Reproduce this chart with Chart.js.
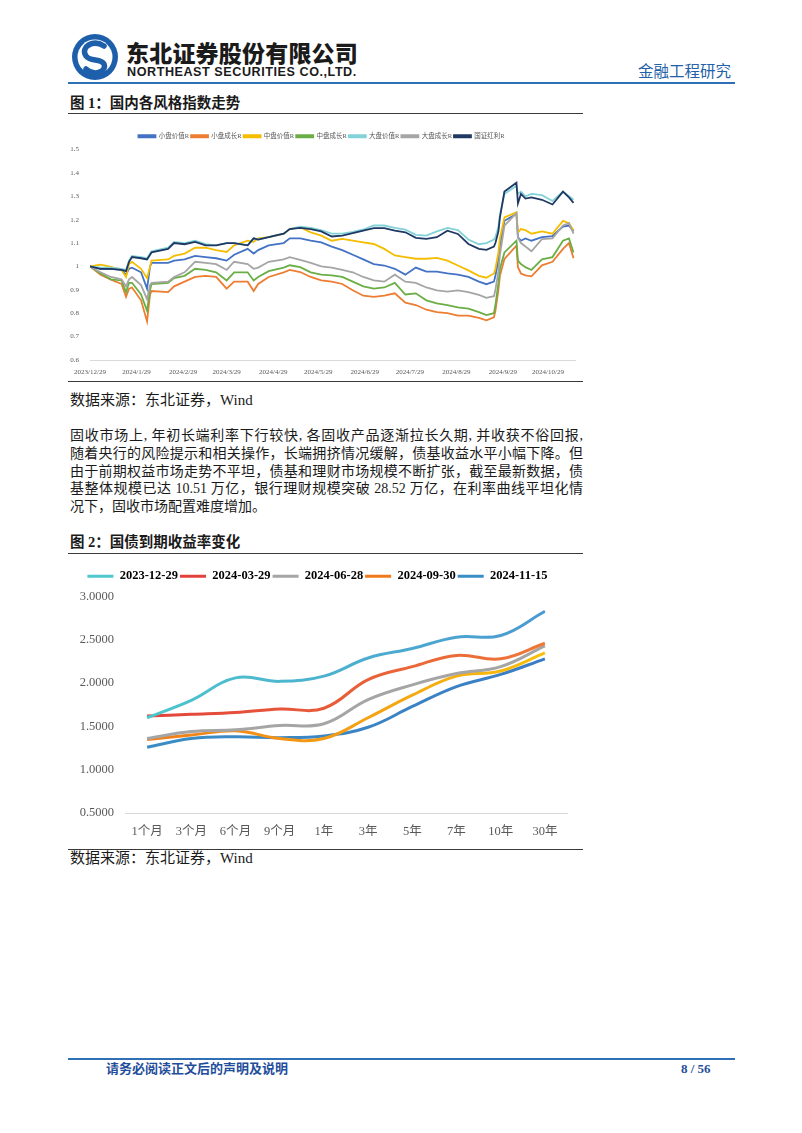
<!DOCTYPE html>
<html lang="zh">
<head>
    <meta charset="UTF-8">
    <title>金融工程研究</title>
    <style>
        body {
            margin: 0;
            background: #fff;
            font-family: "Liberation Serif", "Noto Sans CJK SC", serif;
            color: #1a1a1a;
        }
        .page { position: relative; width: 802px; height: 1133px; overflow: hidden; }
        .abs { position: absolute; white-space: nowrap; }
        .rule { position: absolute; left: 68px; width: 515px; border-top: 1px solid #3a3a3a; }
        .blue-rule { position: absolute; left: 68px; width: 667px; border-top: 2px solid #2f6fb5; }
        .fig-title { font-size: 14.5px; font-weight: bold; line-height: 18px; left: 70px; }
        .source { font-size: 15px; line-height: 18px; left: 70px; }
        .para { position: absolute; left: 70px; top: 427px; width: 513px; font-size: 14px; line-height: 17.8px; }
        .para div { text-align: justify; text-align-last: justify; white-space: nowrap; }
        .para div.last { text-align-last: left; }
        canvas { position: absolute; }
    </style>
    <script src="https://cdn.jsdelivr.net/npm/chart.js"></script>
</head>
<body>
<div class="page">
    <!-- en-tête -->
    <svg class="abs" style="left:71px; top:33px" width="48" height="48" viewBox="0 0 48 48">
        <circle cx="24" cy="24" r="23" fill="#1d5fab"/>
        <circle cx="24" cy="24" r="17.5" fill="#fff"/>
        <path d="M33 13 C22 6 9 14 15 23 C19 29 30 25 33 31 C36 38 24 44 15 36" stroke="#1d5fab" stroke-width="5.5" fill="none" stroke-linecap="round"/>
    </svg>
    <div class="abs" style="left:126px; top:38px; font-family:'Noto Sans CJK SC'; font-weight:900; font-size:23px; line-height:28px; color:#1b1b1b; letter-spacing:0.2px">东北证券股份有限公司</div>
    <div class="abs" style="left:127px; top:64px; font-family:'Liberation Sans'; font-weight:bold; font-size:12.6px; line-height:16px; color:#1b1b1b; letter-spacing:0.55px">NORTHEAST SECURITIES CO.,LTD.</div>
    <div class="abs" style="left:638px; top:62px; font-size:15.5px; line-height:20px; color:#2461a8">金融工程研究</div>
    <div class="blue-rule" style="top:82px"></div>

    <div class="abs fig-title" style="top:94px">图 1：国内各风格指数走势</div>
    <div class="rule" style="top:113px"></div>
    <canvas id="styleChart" width="515" height="262" style="left:68px; top:118px"></canvas>
    <div class="rule" style="top:381px"></div>
    <div class="abs source" style="top:391px">数据来源：东北证券，Wind</div>

    <div class="para">
        <div>固收市场上, 年初长端利率下行较快, 各固收产品逐渐拉长久期, 并收获不俗回报,</div>
        <div>随着央行的风险提示和相关操作，长端拥挤情况缓解，债基收益水平小幅下降。但</div>
        <div>由于前期权益市场走势不平坦，债基和理财市场规模不断扩张，截至最新数据，债</div>
        <div>基整体规模已达 10.51 万亿，银行理财规模突破 28.52 万亿，在利率曲线平坦化情</div>
        <div class="last">况下，固收市场配置难度增加。</div>
    </div>

    <div class="abs fig-title" style="top:533px">图 2：国债到期收益率变化</div>
    <div class="rule" style="top:553px"></div>
    <canvas id="yieldChart" width="515" height="290" style="left:68px; top:558px"></canvas>
    <div class="rule" style="top:849px"></div>
    <div class="abs source" style="top:849px">数据来源：东北证券，Wind</div>

    <!-- pied de page -->
    <div class="blue-rule" style="top:1058px"></div>
    <div class="abs" style="left:106px; top:1061px; font-size:13px; font-weight:bold; line-height:16px; color:#1f4e9c">请务必阅读正文后的声明及说明</div>
    <div class="abs" style="left:681px; top:1061px; font-size:13px; font-weight:bold; line-height:16px; color:#1f4e9c">8 / 56</div>
</div>

<script>
// ---- figure 1 : indices de style (base 2023/12/29 = 1) ----
const tradeDates = ['2023-12-29','2024-01-05','2024-01-12','2024-01-19','2024-01-22','2024-01-24','2024-01-26','2024-02-01','2024-02-05','2024-02-07',
    '2024-02-08','2024-02-19','2024-02-23','2024-03-01','2024-03-08','2024-03-15','2024-03-22','2024-03-29','2024-04-03','2024-04-12',
    '2024-04-16','2024-04-19','2024-04-26','2024-05-06','2024-05-10','2024-05-17','2024-05-24','2024-05-31','2024-06-07','2024-06-14',
    '2024-06-21','2024-06-28','2024-07-05','2024-07-12','2024-07-19','2024-07-26','2024-08-02','2024-08-09','2024-08-16','2024-08-23',
    '2024-08-30','2024-09-06','2024-09-13','2024-09-18','2024-09-23','2024-09-24','2024-09-26','2024-09-27','2024-09-30','2024-10-08',
    '2024-10-09','2024-10-11','2024-10-14','2024-10-18','2024-10-25','2024-11-01','2024-11-08','2024-11-12','2024-11-15'];

const smallValue = [1.000,0.990,0.990,0.985,0.965,0.990,0.995,0.975,0.905,1.000,
    1.015,1.015,1.025,1.030,1.045,1.040,1.035,1.025,1.050,1.075,
    1.055,1.070,1.090,1.100,1.120,1.120,1.110,1.103,1.085,1.070,
    1.050,1.030,1.010,1.004,0.990,0.965,0.995,0.978,0.978,0.970,
    0.965,0.955,0.935,0.924,0.935,0.960,1.030,1.090,1.195,1.224,
    1.124,1.110,1.120,1.110,1.125,1.130,1.170,1.175,1.150];
const smallGrowth = [1.000,0.965,0.943,0.925,0.870,0.905,0.910,0.855,0.765,0.880,
    0.895,0.890,0.915,0.935,0.955,0.960,0.955,0.905,0.935,0.935,
    0.895,0.925,0.955,0.975,0.985,0.976,0.955,0.940,0.935,0.925,
    0.898,0.875,0.870,0.875,0.885,0.845,0.835,0.815,0.805,0.800,
    0.790,0.790,0.780,0.770,0.782,0.810,0.900,0.960,1.032,1.089,
    0.997,0.970,0.962,0.958,1.005,1.020,1.075,1.100,1.035];
const midValue = [1.000,1.008,0.998,0.985,0.955,1.010,1.020,0.990,0.950,1.000,
    1.025,1.030,1.045,1.055,1.080,1.080,1.070,1.062,1.090,1.110,
    1.105,1.120,1.125,1.140,1.160,1.168,1.146,1.132,1.110,1.118,
    1.110,1.103,1.096,1.075,1.047,1.040,1.033,1.033,1.037,1.025,
    1.004,0.983,0.960,0.952,0.970,0.990,1.060,1.120,1.210,1.231,
    1.146,1.160,1.155,1.140,1.150,1.140,1.195,1.185,1.155];
const midGrowth = [1.000,0.970,0.945,0.940,0.890,0.930,0.930,0.880,0.810,0.900,
    0.925,0.930,0.950,0.960,0.990,0.985,0.975,0.940,0.975,0.975,
    0.940,0.955,0.980,0.995,1.005,0.997,0.975,0.965,0.962,0.955,
    0.935,0.915,0.905,0.910,0.930,0.880,0.885,0.855,0.842,0.835,
    0.825,0.820,0.805,0.792,0.800,0.835,0.930,0.990,1.060,1.110,
    1.025,1.010,0.997,0.985,1.030,1.040,1.110,1.120,1.060];
const largeValue = [1.000,0.995,0.995,0.990,0.985,1.025,1.045,1.040,1.035,1.055,
    1.065,1.080,1.105,1.100,1.110,1.095,1.090,1.100,1.100,1.090,
    1.120,1.115,1.125,1.140,1.160,1.170,1.165,1.155,1.140,1.140,
    1.148,1.158,1.175,1.175,1.165,1.157,1.135,1.132,1.150,1.165,
    1.155,1.115,1.095,1.100,1.115,1.125,1.170,1.220,1.310,1.345,
    1.310,1.320,1.300,1.310,1.305,1.280,1.320,1.300,1.285];
const largeGrowth = [1.000,0.975,0.955,0.945,0.915,0.945,0.955,0.920,0.860,0.920,
    0.930,0.935,0.955,0.975,1.020,1.015,1.010,0.985,1.020,1.010,
    0.990,0.995,1.020,1.030,1.040,1.028,1.015,1.000,0.995,0.985,
    0.975,0.955,0.940,0.935,0.965,0.935,0.930,0.910,0.898,0.892,
    0.898,0.890,0.878,0.866,0.873,0.900,0.980,1.050,1.174,1.228,
    1.124,1.100,1.085,1.065,1.117,1.120,1.175,1.185,1.140];
const dividend = [1.000,0.990,0.990,0.985,0.980,1.020,1.040,1.035,1.030,1.050,
    1.060,1.075,1.100,1.095,1.105,1.090,1.090,1.100,1.100,1.090,
    1.120,1.115,1.125,1.140,1.160,1.165,1.160,1.150,1.128,1.132,
    1.142,1.153,1.164,1.164,1.153,1.146,1.122,1.118,1.125,1.153,
    1.139,1.096,1.075,1.071,1.085,1.100,1.150,1.210,1.320,1.358,
    1.270,1.310,1.290,1.295,1.285,1.265,1.320,1.295,1.272];

const monthTicks = ['2023/12/29','2024/1/29','2024/2/29','2024/3/29','2024/4/29','2024/5/29',
    '2024/6/29','2024/7/29','2024/8/29','2024/9/29','2024/10/29'];

// ---- figure 2 : courbe des taux ----
const tenors = ['1个月','3个月','6个月','9个月','1年','3年','5年','7年','10年','30年'];
const curve20231229 = [1.60, 1.80, 2.06, 2.02, 2.08, 2.29, 2.40, 2.53, 2.55, 2.83];
const curve20240329 = [1.62, 1.64, 1.66, 1.70, 1.71, 2.04, 2.19, 2.32, 2.28, 2.46];
const curve20240628 = [1.36, 1.44, 1.46, 1.51, 1.53, 1.81, 1.98, 2.11, 2.19, 2.43];
const curve20240930 = [1.35, 1.40, 1.45, 1.36, 1.36, 1.60, 1.86, 2.08, 2.14, 2.35];
const curve20241115 = [1.26, 1.36, 1.38, 1.37, 1.39, 1.49, 1.73, 1.96, 2.10, 2.28];

const base = Date.UTC(2023, 11, 29);
const toDay = s => {
    const [y, m, d] = s.split(/[-\/]/).map(Number);
    return Math.round((Date.UTC(y, m - 1, d) - base) / 86400000);
};
const dayNums = tradeDates.map(toDay);

const tinyFont = { family: "'Liberation Serif', 'Noto Sans CJK SC', serif", size: 7 };

const styleSeries = [
    ['小盘价值R', smallValue, '#4472c4'],
    ['小盘成长R', smallGrowth, '#ed7d31'],
    ['中盘价值R', midValue, '#f5bd00'],
    ['中盘成长R', midGrowth, '#6aae45'],
    ['大盘价值R', largeValue, '#82d3d7'],
    ['大盘成长R', largeGrowth, '#a5a5a5'],
    ['国证红利R', dividend, '#1f3864']
];

new Chart(document.getElementById('styleChart'), {
    type: 'line',
    data: {
        datasets: styleSeries.map(([label, values, color], i) => ({
            label: label,
            data: dayNums.map((x, k) => ({ x: x, y: values[k] })),
            borderColor: color,
            backgroundColor: color,
            borderWidth: 1.8,
            pointRadius: 0,
            tension: 0,
            order: styleSeries.length - i
        }))
    },
    options: {
        responsive: false,
        animation: false,
        layout: { padding: { top: 13, right: 8, left: 0, bottom: 0 } },
        plugins: {
            legend: {
                position: 'top',
                labels: {
                    boxWidth: 17, boxHeight: 2, padding: 2,
                    color: '#595959',
                    font: { family: tinyFont.family, size: 6.5 },
                    sort: (a, b) => a.datasetIndex - b.datasetIndex
                }
            },
            tooltip: { enabled: false }
        },
        scales: {
            x: {
                type: 'linear',
                min: 0,
                max: 323,
                afterBuildTicks: s => { s.ticks = monthTicks.map(t => ({ value: toDay(t) })); },
                afterFit: s => { s.height = 20; },
                ticks: {
                    autoSkip: false, maxRotation: 0, padding: 0, color: '#595959', font: tinyFont,
                    callback: (v, i) => monthTicks[i]
                },
                grid: { display: false },
                border: { color: '#d9d9d9' }
            },
            y: {
                min: 0.6,
                max: 1.5,
                afterFit: s => { s.width = 22; },
                ticks: {
                    stepSize: 0.1, color: '#595959', font: tinyFont,
                    callback: v => String(Math.round(v * 10) / 10)
                },
                grid: { display: false },
                border: { display: false }
            }
        }
    }
});

// dégradés de couleur des courbes (comme dans Excel)
const gradient = (c0, c1) => ctx => {
    const area = ctx.chart.chartArea;
    if (!area) return c0;
    const g = ctx.chart.ctx.createLinearGradient(area.left, 0, area.right, 0);
    g.addColorStop(0, c0);
    g.addColorStop(1, c1);
    return g;
};

const curveSeries = [
    ['2023-12-29', curve20231229, '#4ec8cc', '#4a97d2'],
    ['2024-03-29', curve20240329, '#e2403b', '#ef7b36'],
    ['2024-06-28', curve20240628, '#a5a5a5', '#a5a5a5'],
    ['2024-09-30', curve20240930, '#f07a1b', '#f8c30c'],
    ['2024-11-15', curve20241115, '#3a8ec4', '#3b7cc5']
];

const axisFont = { family: "'Liberation Serif', 'Noto Sans CJK SC', serif", size: 12.5 };

new Chart(document.getElementById('yieldChart'), {
    type: 'line',
    data: {
        labels: tenors,
        datasets: curveSeries.map(([label, values, c0, c1]) => ({
            label: label,
            data: values,
            borderColor: gradient(c0, c1),
            borderWidth: 3,
            pointRadius: 0,
            tension: 0.4
        }))
    },
    options: {
        responsive: false,
        animation: false,
        layout: { padding: { top: 10, right: 16, left: 0, bottom: 0 } },
        plugins: {
            legend: {
                position: 'top',
                labels: {
                    boxWidth: 26, boxHeight: 3, padding: 2,
                    color: '#4d4d4d',
                    font: { family: axisFont.family, size: 12.5, weight: 'bold' },
                    generateLabels: chart => chart.data.datasets.map((d, i) => ({
                        text: d.label,
                        fillStyle: curveSeries[i][2],
                        strokeStyle: curveSeries[i][2],
                        lineWidth: 0,
                        datasetIndex: i,
                        hidden: false
                    }))
                }
            },
            subtitle: { display: true, text: ' ', weight: 500, padding: 0, font: { size: 4, lineHeight: 1 } },
            tooltip: { enabled: false }
        },
        scales: {
            x: {
                offset: true,
                afterFit: s => { s.height = 35; },
                ticks: { color: '#595959', font: axisFont, maxRotation: 0 },
                grid: { display: false },
                border: { color: '#d9d9d9' }
            },
            y: {
                min: 0.5,
                max: 3,
                afterFit: s => { s.width = 57; },
                ticks: { stepSize: 0.5, color: '#595959', font: axisFont, callback: v => v.toFixed(4) },
                grid: { display: false },
                border: { display: false }
            }
        }
    }
});
</script>
</body>
</html>
